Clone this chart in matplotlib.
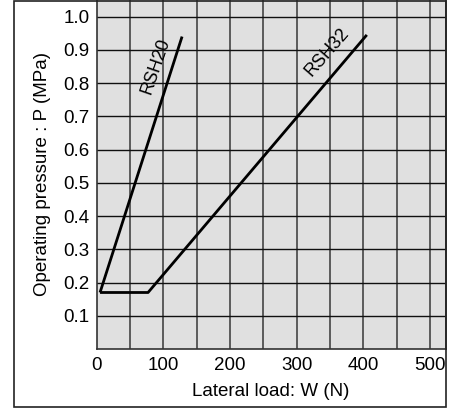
import numpy as np
import matplotlib.pyplot as plt
from matplotlib.patches import Rectangle

plt.rcParams['font.family'] = ['Liberation Sans', 'DejaVu Sans']

# RSH20 / RSH32 curves (lateral load N, pressure MPa)
rsh20_w = [5, 128]
rsh20_p = [0.17, 0.94]
rsh32_w = [5, 77, 405]
rsh32_p = [0.17, 0.17, 0.945]

xticks = [0, 100, 200, 300, 400, 500]
yticks = [0.1, 0.2, 0.3, 0.4, 0.5, 0.6, 0.7, 0.8, 0.9, 1.0]

fig = plt.figure(figsize=(4.53, 4.08), dpi=100)
ax = fig.add_axes([96.7/453, (408-349)/408, (445.5-96.7)/453, 349/408])
ax.set_facecolor('#e0e0e0')
ax.set_xlim(0, 523)
ax.set_ylim(0, 1.05)

# grid
for x in np.arange(50, 523, 50):
    ax.axvline(x, color='#505050', lw=1.3, zorder=1)
for y in yticks:
    ax.axhline(y, color='#101010', lw=1.0, zorder=1)

ax.plot(rsh20_w, rsh20_p, color='black', lw=2, zorder=3, solid_capstyle='butt')
ax.plot(rsh32_w, rsh32_p, color='black', lw=2, zorder=3, solid_capstyle='butt')

ax.text(88, 0.85, 'RSH20', rotation=71, ha='center', va='center', fontsize=13)
ax.text(345, 0.892, 'RSH32', rotation=49, ha='center', va='center', fontsize=13)

ax.set_xticks(xticks)
ax.set_yticks(yticks)
ax.set_yticklabels(['%.1f' % v for v in yticks])
ax.tick_params(length=0, labelsize=13.5, pad=6)
ax.tick_params(axis='y', pad=5)
for s in ['left', 'bottom', 'right']:
    ax.spines[s].set_color('#333333')
    ax.spines[s].set_linewidth(1.2)
ax.spines['top'].set_visible(False)

ax.set_xlabel('Lateral load: W (N)', fontsize=13.5, labelpad=6)
ax.set_ylabel('Operating pressure : P (MPa)', fontsize=13.5, labelpad=9)

# outer frame
fig.patches.append(Rectangle((14.5/453, 1.5/408), (445.5-14.5)/453, (407.5-1.5)/408,
                             transform=fig.transFigure, fill=False,
                             edgecolor='#222222', lw=1.2))

fig.savefig('out.png', dpi=100)
